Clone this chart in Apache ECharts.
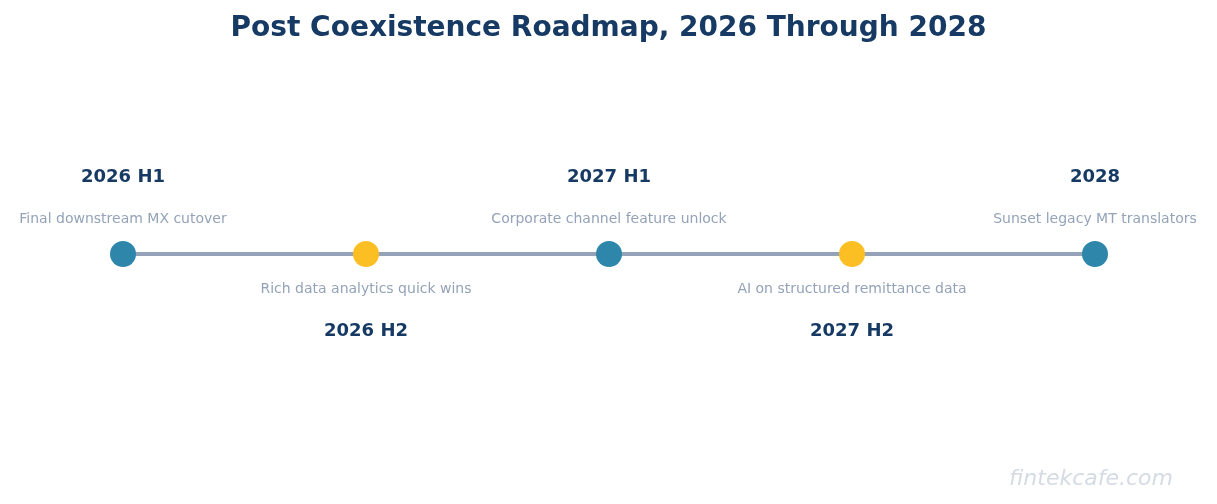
<!DOCTYPE html>
<html><head><meta charset="utf-8">
<script src="https://cdn.jsdelivr.net/npm/echarts@6/dist/echarts.min.js"></script>
<style>html,body{margin:0;padding:0;background:#fff}#c{width:1217px;height:504px}</style>
</head><body><div id="c"></div>
<script>
const periods = ["2026 H1","2026 H2","2027 H1","2027 H2","2028"];
const descriptions = ["Final downstream MX cutover","Rich data analytics quick wins","Corporate channel feature unlock","AI on structured remittance data","Sunset legacy MT translators"];
const sides = ["top","bottom","top","bottom","top"];
const colors = ["#2e86ab","#fbbf24"];
const F = "'DejaVu Sans', sans-serif";
const chart = echarts.init(document.getElementById('c'));
const pts = periods.map((p,i)=>{
  const top = sides[i]==="top";
  return {
    value:[i,0],
    itemStyle:{color: colors[i%2], opacity:1},
    label:{show:true, position: sides[i], distance:12,
      formatter: top ? `{p|${p}}\n{d|${descriptions[i]}}` : `{d|${descriptions[i]}}\n{p|${p}}`}
  };
});
chart.setOption({
  animation:false,
  title:{text:"Post Coexistence Roadmap, 2026 Through 2028", left:"center", top:10,
    textStyle:{fontFamily:F, fontSize:28, fontWeight:"bold", color:"#163a63"}},
  grid:{left:123, right:122, top:104, bottom:100},
  xAxis:{type:"value", min:0, max:periods.length-1, show:false},
  yAxis:{type:"value", min:-1, max:1, show:false},
  graphic:[{type:"text", right:44, bottom:14, style:{text:"fintekcafe.com", fill:"#d5dbe3",
    font:"italic 22px 'DejaVu Sans', sans-serif"}}],
  series:[
    {type:"line", data:periods.map((p,i)=>[i,0]), symbol:"none", lineStyle:{color:"#94a3b8", width:4, opacity:1}, z:1},
    {type:"scatter", symbolSize:26, data:pts, z:2, itemStyle:{opacity:1},
      label:{fontFamily:F, opacity:1,
        rich:{p:{fontSize:18, fontWeight:"bold", color:"#163a63", lineHeight:64, fontFamily:F},
              d:{fontSize:14, color:"#94a3b8", lineHeight:20, fontFamily:F}}}}
  ]
});
</script></body></html>
